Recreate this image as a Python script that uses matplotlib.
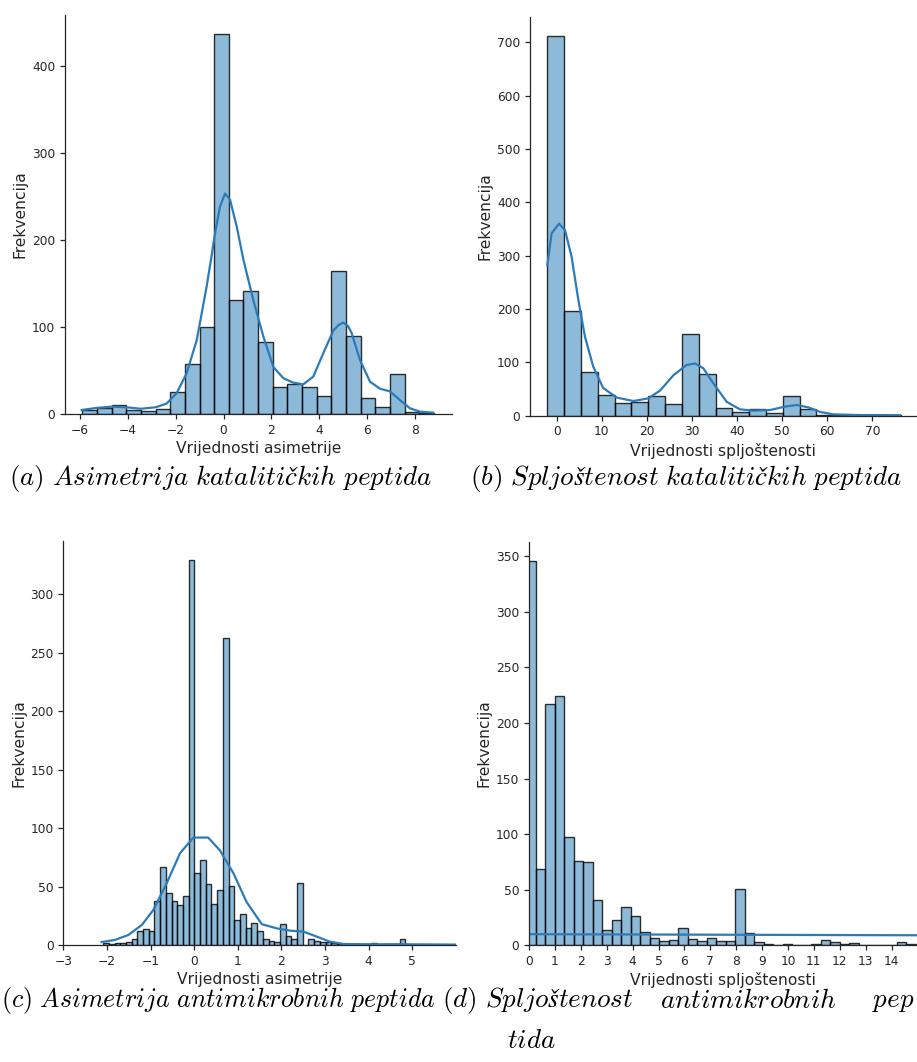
import matplotlib
matplotlib.use('Agg')
import matplotlib.pyplot as plt
import numpy as np

plt.rcParams['mathtext.fontset'] = 'cm'
plt.rcParams['font.family'] = ['DejaVu Sans']

# ---------------- data ----------------
# (a) skewness of catalytic peptides
a_bin_start, a_bin_width = -5.90, 0.612
a_counts = [5, 7, 10, 5, 4, 6, 25, 57, 100, 436, 131, 141, 83, 31, 35, 31, 21,
            164, 90, 18, 8, 46, 2, 1]
a_kde_x = [-5.93, -5.30, -4.68, -4.05, -3.46, -2.84, -2.38, -1.96, -1.54, -1.12,
           -0.71, -0.50, -0.36, -0.15, 0.06, 0.27, 0.55, 0.83, 1.24, 1.66, 2.08, 2.50,
           2.91, 3.33, 3.75, 4.17, 4.59, 4.80, 5.00, 5.20, 5.35, 5.70, 6.12, 6.54, 6.95,
           7.37, 7.79, 8.21, 8.76]
a_kde_y = [4.6, 7, 8.4, 7.7, 6, 7.7, 12, 24, 47, 85, 146, 182, 207, 238, 253, 246,
           215, 177, 131, 89, 54, 41, 36, 34, 43, 70, 96, 102, 105, 101, 93, 62, 37, 29,
           26, 16, 6.5, 2.7, 1.5]

# (b) kurtosis of catalytic peptides
b_bin_start, b_bin_width = -2.08, 3.73
b_counts = [712, 197, 81, 38, 24, 26, 37, 21, 153, 79, 14, 7, 12, 5, 37, 12,
            1, 1, 0, 1, 1]
b_kde_x = [-2.08, -1.12, 0.51, 1.84, 3.3, 4.8, 6.27, 8.1, 10.3, 13.3, 17.0,
           20.3, 22.9, 25.9, 28.8, 30.7, 32.5, 34.7, 37.7, 40.6, 43.6, 47.3,
           50.6, 53.2, 55.8, 58.4, 61.3, 67.2, 76.1]
b_kde_y = [282, 342, 360, 348, 298, 217, 148, 92, 52, 34, 27.5, 32.5, 47, 76,
           95, 98, 89, 61, 26, 12, 9.4, 10.6, 17, 20, 15.6, 7, 2.5, 1.2, 1]

# (c) skewness of antimicrobial peptides
c_bin_start, c_bin_width = -2.086, 0.13065
c_counts = [2, 1, 2, 2, 3, 5, 12, 14, 12, 38, 67, 45, 38, 34, 42,
            329, 62, 73, 52, 35, 47, 262, 51, 22, 27, 15, 19, 12, 5, 4, 3, 18, 8, 5, 53,
            0, 5, 4, 3, 3, 2, 1, 1, 1, 1, 0, 1, 2, 0, 1, 1, 1, 5, 0, 0, 0, 0, 0, 0, 0, 0, 0]
c_kde_x = [-2.12, -1.815, -1.51, -1.20, -0.94, -0.63, -0.325, -0.02, 0.32, 0.59,
           0.90, 1.20, 1.55, 1.89, 2.20, 2.50, 2.81, 3.11, 3.42, 3.95, 4.72, 6.0, 7.0]
c_kde_y = [2.8, 4.6, 8.8, 17.4, 30, 53, 78.6, 92, 92, 81, 61.5, 37, 18, 14.5,
           12.5, 11.7, 7.4, 3.1, 1.1, 0.9, 0.9, 0.6, 0.3]

# (d) kurtosis of antimicrobial peptides
d_bin_start, d_bin_width = -0.0962, 0.3665
d_counts = [346, 69, 217, 224, 97, 76, 75, 41, 14, 23, 34, 26, 12, 7, 4, 5, 16,
            6, 4, 7, 4, 4, 51, 11, 3, 1, 0, 1, 0, 0, 1, 5, 3, 1, 2, 0, 0, 0, 0, 3, 1]
d_kde_x = [-0.1, 3.0, 6.0, 9.0, 12.0, 15.5]
d_kde_y = [10.0, 9.8, 9.6, 9.4, 9.2, 9.0]

ylabel = 'Frekvencija'
xlabel_skew = 'Vrijednosti asimetrije'
xlabel_kurt = 'Vrijednosti spljoštenosti'
captions = ['(a) Asimetrija katalitičkih peptida',
            '(b) Spljoštenost katalitičkih peptida',
            '(c) Asimetrija antimikrobnih peptida']
caption_d_parts = ['(d) Spljoštenost', 'antimikrobnih', 'pep', 'tida']

# ---------------- drawing ----------------
W, H = 917, 1062
fig = plt.figure(figsize=(W / 100, H / 100), dpi=100)

def add_ax(l, t, r, b):
    return fig.add_axes([l / W, 1 - b / H, (r - l) / W, (b - t) / H])

FACE = (31 / 255, 119 / 255, 180 / 255, 0.5)
EDGE = (0, 0, 0, 0.8)
LINE = '#2b7bba'
TICK_FS = 8.8
LABEL_FS = 11.2
TXT = '#262626'

def hist_panel(ax, start, width, counts, kx, ky, xlim, ylim, xticks, yticks, xlabel):
    counts = np.asarray(counts, dtype=float)
    edges = start + width * np.arange(len(counts) + 1)
    ax.bar(edges[:-1], counts, width=width, align='edge', color=FACE,
           edgecolor=EDGE, linewidth=1.0)
    ax.plot(kx, ky, color=LINE, linewidth=1.6)
    ax.set_xlim(*xlim)
    ax.set_ylim(*ylim)
    ax.set_xticks(xticks)
    ax.set_yticks(yticks)
    ax.spines['top'].set_visible(False)
    ax.spines['right'].set_visible(False)
    for s in ('left', 'bottom'):
        ax.spines[s].set_linewidth(0.9)
        ax.spines[s].set_color(TXT)
    ax.tick_params(labelsize=TICK_FS, colors=TXT, length=3.5, width=0.9)
    ax.set_xlabel(xlabel, fontsize=LABEL_FS, color=TXT, labelpad=3)
    ax.set_ylabel(ylabel, fontsize=LABEL_FS, color=TXT, labelpad=3)

ax_a = add_ax(65, 15, 452, 414)
hist_panel(ax_a, a_bin_start, a_bin_width, a_counts, a_kde_x, a_kde_y,
           (-6.627, 9.545), (0, 458), np.arange(-6, 9, 2), [0, 100, 200, 300, 400],
           xlabel_skew)

ax_b = add_ax(530, 16.7, 916.7, 415.7)
hist_panel(ax_b, b_bin_start, b_bin_width, b_counts, b_kde_x, b_kde_y,
           (-5.92, 79.82), (0, 748), np.arange(0, 80, 10), np.arange(0, 800, 100),
           xlabel_kurt)

ax_c = add_ax(63.3, 540.7, 456, 945.3)
hist_panel(ax_c, c_bin_start, c_bin_width, c_counts, c_kde_x, c_kde_y,
           (-3, 6.0), (0, 345.5), np.arange(-3, 6, 1), np.arange(0, 350, 50),
           xlabel_skew)

ax_d = add_ax(529, 541.7, 917, 945.3)
hist_panel(ax_d, d_bin_start, d_bin_width, d_counts, d_kde_x, d_kde_y,
           (0, 14.98), (0, 363), np.arange(0, 15, 1), np.arange(0, 400, 50),
           xlabel_kurt)

def cap(s):
    return '$' + s.replace(' ', r'\ ') + '$'

CAP_FS = 19.5
def put(x, y, s, ha='left', fs=CAP_FS):
    fig.text(x / W, 1 - y / H, cap(s), fontsize=fs, ha=ha, va='center')

put(9, 479, captions[0])
put(470, 479, captions[1])
put(1, 1001, captions[2], fs=18.6)
put(442, 1001, caption_d_parts[0])
put(660, 1001, caption_d_parts[1])
put(914, 1001, caption_d_parts[2], ha='right')
put(507, 1041, caption_d_parts[3])

fig.savefig('out.png', dpi=100)
